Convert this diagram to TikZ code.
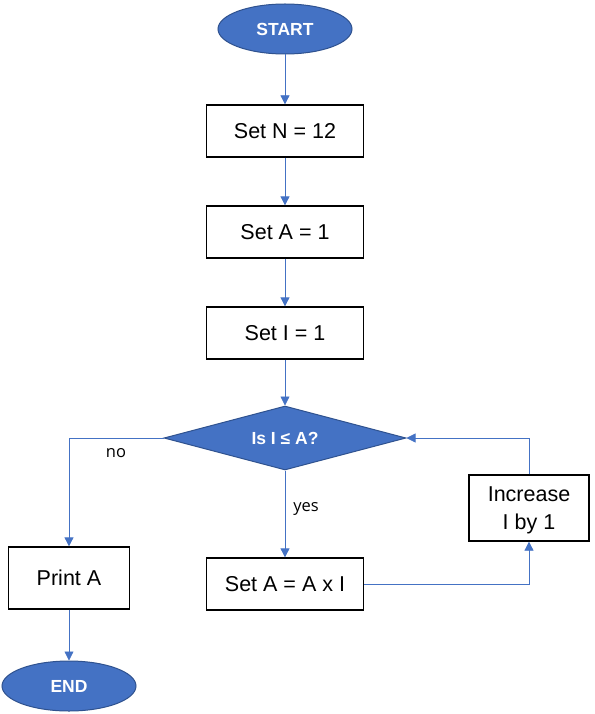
\documentclass[tikz,border=0pt]{standalone}
\usepackage{fontspec}
\setmainfont{Liberation Sans}
\newfontfamily\labfont{Open Sans}
\usetikzlibrary{shapes.geometric,arrows.meta}
\definecolor{flowblue}{HTML}{4472C4}
\definecolor{flowedge}{HTML}{2F528F}
\begin{document}
\begin{tikzpicture}[x=1pt,y=-1pt,
  procbox/.style={draw=black,line width=1.3pt,fill=white,minimum width=#1,inner sep=0pt,font=\fontsize{21.5}{24}\selectfont},
  term/.style={ellipse,draw=flowedge,line width=1pt,fill=flowblue,minimum width=134pt,minimum height=50pt,inner sep=0pt,text=white,font=\bfseries\fontsize{17.5}{20}\selectfont},
  conn/.style={draw=flowblue,line width=0.8pt},
  arr/.style={conn,-{Triangle[length=9pt,width=9pt]}},
  lab/.style={font=\labfont\fontsize{16.5}{19}\selectfont}]
\useasboundingbox (0,0) rectangle (594,714);
\node[term] (start) at (285,29) {START};
\node[procbox=157pt,minimum height=52pt] (setn) at (285,131) {Set N = 12};
\node[procbox=157pt,minimum height=52pt] (seta) at (285,232) {Set A = 1};
\node[procbox=157pt,minimum height=52pt] (seti) at (285,333) {Set I = 1};
\node[diamond,draw=flowedge,line width=1pt,fill=flowblue,minimum width=242pt,minimum height=64pt,inner sep=0pt,aspect=3.78] (dec) at (285,438) {};
\node[text=white,font=\bfseries\fontsize{17.5}{20}\selectfont] (dectext) at (285,438) {Is I ≤ A?};
\node[procbox=157pt,minimum height=52pt] (mult) at (285,584) {Set A = A x I};
\node[draw=black,line width=1.3pt,fill=white,minimum width=120pt,minimum height=66pt] (inc) at (529,508) {};
\node[align=center,font=\fontsize{21.5}{28}\selectfont,inner sep=0pt] (inctext) at (529,510) {Increase\\I by 1};
\node[procbox=121pt,minimum height=62pt] (print) at (69,578) {Print A};
\node[term] (end) at (69,686) {END};
\draw[arr] (start) -- (setn);
\draw[arr] (setn) -- (seta);
\draw[arr] (seta) -- (seti);
\draw[arr] (seti) -- (dec.north);
\draw[arr] (dec.west) -| (print.north);
\draw[arr] (dec.south) -- (mult.north);
\draw[arr] (mult.east) -| (inc.south);
\draw[arr] (inc.north) |- (dec.east);
\draw[arr] (print) -- (end);
\node[lab] (no) at (116,453) {no};
\node[lab] (yes) at (306,509) {yes};
\end{tikzpicture}
\end{document}
